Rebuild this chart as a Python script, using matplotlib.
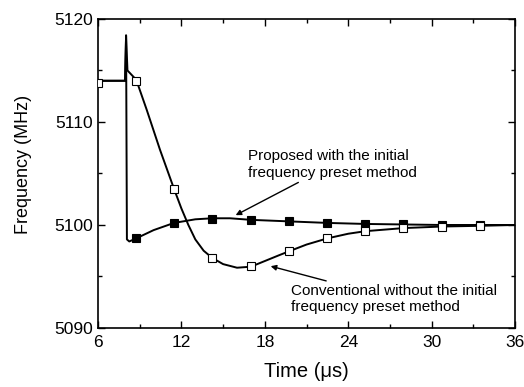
import matplotlib
matplotlib.use("Agg")
import matplotlib.pyplot as plt
from matplotlib.ticker import MultipleLocator

plt.rcParams['font.family'] = ['Liberation Sans', 'DejaVu Sans']

# Conventional (open squares) curve
conv_t = [6, 7.95, 8.02, 8.12, 8.75, 9.5, 10.46, 11.47, 12.0, 12.5, 13.0, 13.6, 14.22,
          15.0, 16.0, 17.0, 18.0, 19.0, 19.75, 21.0, 22.5, 24.0, 25.25, 28.0, 30.75, 33.5, 36]
conv_f = [5114.0, 5114.0, 5118.4, 5115.0, 5114.1, 5111.2, 5107.3, 5103.5, 5101.6, 5100.0, 5098.6,
          5097.5, 5096.8, 5096.2, 5095.85, 5095.95, 5096.5, 5097.05, 5097.45, 5098.1, 5098.7,
          5099.15, 5099.4, 5099.7, 5099.85, 5099.92, 5100.0]
conv_mt = [6, 8.75, 11.47, 14.22, 16.98, 19.72, 22.5, 25.22, 27.97, 30.72, 33.48]
conv_mf = [5113.8, 5114.0, 5103.5, 5096.8, 5096.0, 5097.45, 5098.7, 5099.4, 5099.7, 5099.85, 5099.9]

# Proposed (filled squares) curve
prop_t = [6, 7.95, 8.02, 8.08, 8.25, 8.75, 10.0, 11.47, 13.0, 14.22, 15.5, 16.98, 19.72,
          22.5, 25.22, 27.97, 30.72, 33.48, 36]
prop_f = [5114.0, 5114.0, 5118.4, 5098.6, 5098.4, 5098.7, 5099.5, 5100.2, 5100.55, 5100.65,
          5100.65, 5100.5, 5100.35, 5100.2, 5100.1, 5100.05, 5100.0, 5100.0, 5100.0]
prop_mt = [8.75, 11.47, 14.22, 16.98, 19.72, 22.5, 25.22, 27.97, 30.72, 33.48]
prop_mf = [5098.7, 5100.2, 5100.6, 5100.5, 5100.35, 5100.2, 5100.1, 5100.05, 5100.0, 5100.0]

fig = plt.figure(figsize=(5.24, 3.87), dpi=100)
ax = fig.add_axes([0.187, 0.1525, 0.796, 0.7985])

ax.plot(prop_t, prop_f, color='black', lw=1.4, zorder=2)
ax.plot(conv_t, conv_f, color='black', lw=1.4, zorder=2)
ax.plot(prop_mt, prop_mf, ls='none', marker='s', ms=5.6, mfc='black', mec='black', mew=0.8, zorder=3)
ax.plot(conv_mt, conv_mf, ls='none', marker='s', ms=5.6, mfc='white', mec='black', mew=0.8, zorder=4)

ax.set_xlim(6, 36)
ax.set_ylim(5090, 5120)
ax.xaxis.set_major_locator(MultipleLocator(6))
ax.xaxis.set_minor_locator(MultipleLocator(3))
ax.yaxis.set_major_locator(MultipleLocator(10))
ax.yaxis.set_minor_locator(MultipleLocator(5))
ax.tick_params(which='both', direction='in', top=True, right=True, width=1.0, labelsize=12.5)
ax.tick_params(which='major', length=5)
ax.tick_params(which='minor', length=3)
ax.tick_params(axis='x', pad=5)
for s in ax.spines.values():
    s.set_linewidth(1.2)

ax.set_xlabel('Time (\u03bcs)', fontsize=14.5, labelpad=9)
ax.set_ylabel('Frequency (MHz)', fontsize=13)
ax.yaxis.set_label_coords(-0.158, 0.53)

ax.annotate('Proposed with the initial\nfrequency preset method', xy=(15.9, 5100.95),
            xytext=(16.8, 5104.4), fontsize=11, ha='left', va='bottom', linespacing=1.2,
            arrowprops=dict(arrowstyle='-|>', color='black', lw=1.0, mutation_scale=8, shrinkA=0, shrinkB=0))
ax.annotate('Conventional without the initial\nfrequency preset method', xy=(18.42, 5096.0),
            xytext=(19.85, 5094.3), fontsize=11, ha='left', va='top', linespacing=1.2,
            arrowprops=dict(arrowstyle='-|>', color='black', lw=1.0, mutation_scale=8, shrinkA=0, shrinkB=0))

fig.savefig('out.png', dpi=100)
